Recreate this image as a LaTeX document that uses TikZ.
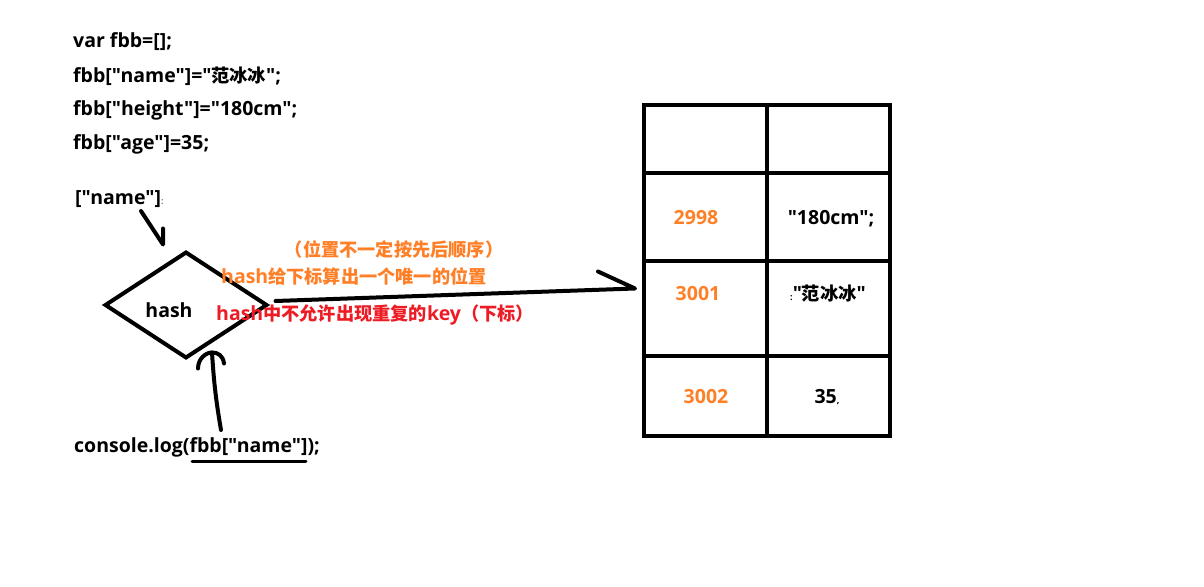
\documentclass[tikz,border=0pt]{standalone}
\usepackage{fontspec}
\newfontfamily\lat{Open Sans}
\newfontfamily\cjk{Noto Sans CJK SC}
\usepackage{tikz}
\usetikzlibrary{positioning,shapes.geometric}
\definecolor{paintorange}{HTML}{FF7F27}
\definecolor{paintred}{HTML}{ED1C24}
\newcommand{\tinymark}[1]{{\fontsize{9}{9}\selectfont #1}}
\newcommand{\zh}[1]{{\cjk\fontsize{18.2}{20}\selectfont #1}}

\begin{document}
\begin{tikzpicture}[x=1pt, y=-1pt,
  font=\lat\fontsize{19.5}{22}\selectfont\bfseries,
  txt/.style={inner sep=0pt, anchor=base west},
  note/.style={txt, text=paintorange},
  warn/.style={txt, text=paintred},
  cell/.style={draw, line width=4pt, minimum width=123pt, inner sep=0pt,
    outer sep=0pt},
  pen/.style={line width=4pt, line cap=round, line join=round}]
  \useasboundingbox (0,0) rectangle (1204,586);
  % code
  \node[txt] (l1) at (73,48) {var fbb=[];};
  \node[txt] (l2) at (73,82) {fbb["name"]="\zh{范冰冰}";};
  \node[txt] (l3) at (73,115) {fbb["height"]="180cm";};
  \node[txt] (l4) at (73,149) {fbb["age"]=35;};
  \node[txt] (key) at (75,204) {["name"]\textcolor{gray}{\tinymark{:}}};
  \node[txt] (con) at (74,452) {console.log(fbb["name"]);};
  % hash
  \node[diamond, draw, line width=4pt, inner sep=0pt, outer sep=0pt,
    minimum width=161pt, minimum height=105pt] (hash) at (186,305) {};
  \node[txt, anchor=base] (hashlbl) at (169,317) {hash};
  % notes
  \node[note, anchor=base] (n1) at (394,256) {\zh{（位置不一定按先后顺序）}};
  \node[note] (n2) at (221,283) {hash\zh{给下标算出一个唯一的位置}};
  \node[warn] (n3) at (216,320) {hash\zh{中不允许出现重复的}key\zh{（下标）}};
  % table
  \node[cell, minimum height=68pt, anchor=north west] (r1a) at (644,105) {};
  \node[cell, minimum height=68pt, right=0pt of r1a] (r1b) {};
  \node[cell, minimum height=88pt, below=0pt of r1a] (r2a) {};
  \node[cell, minimum height=88pt, right=0pt of r2a] (r2b) {};
  \node[cell, minimum height=95pt, below=0pt of r2a] (r3a) {};
  \node[cell, minimum height=95pt, right=0pt of r3a] (r3b) {};
  \node[cell, minimum height=80pt, below=0pt of r3a] (r4a) {};
  \node[cell, minimum height=80pt, right=0pt of r4a] (r4b) {};
  \node[note, anchor=base] (k2998) at (696,224) {2998};
  \node[txt, anchor=base] (v2998) at (831,224) {"180cm";};
  \node[note, anchor=base] (k3001) at (698,300) {3001};
  \node[txt, anchor=base] (v3001) at (828,300) {\tinymark{:}"\zh{范冰冰}"};
  \node[note, anchor=base] (k3002) at (706,403) {3002};
  \node[txt, anchor=base] (v3002) at (827,403) {35\tinymark{,}};
  % arrows
  \draw[pen] ([shift={(66,7)}]key.base west)
    -- ([shift={(-23,-8)}]hash.north) -- ++(0,-16);
  \draw[pen] ([shift={(147,-22)}]con.base west)
    to[bend left=3] ([shift={(26,-5)}]hash.south) coordinate (tip2);
  \draw[pen] (tip2) ++(-14,16) .. controls +(0,-10) and +(-6,0) .. (tip2)
    .. controls +(6,0) and +(-1,-8) .. ++(12,11);
  \draw[pen] ([shift={(9,-4)}]hash.east)
    -- ([shift={(-9,-20)}]r3a.west) -- ++(-37,-17);
  \draw[line width=3pt, line cap=round] ([shift={(118,9)}]con.base west) -- ++(114,0);
\end{tikzpicture}
\end{document}
